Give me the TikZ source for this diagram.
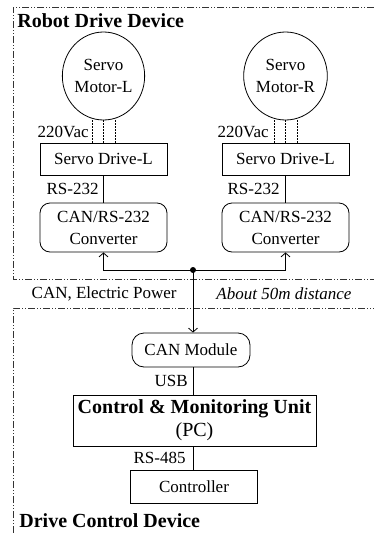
\documentclass[tikz,border=0pt]{standalone}
\usepackage{fontspec}
\setmainfont{Liberation Serif}
\usetikzlibrary{shapes.geometric,arrows.meta}

\begin{document}
\begin{tikzpicture}[x=1pt, y=-1pt, line width=0.8pt,
    every node/.style={font=\fontsize{17}{22}\selectfont, inner sep=0pt},
    motor/.style={draw, ellipse, minimum width=81pt, minimum height=88pt, align=center},
    box/.style={draw, rectangle, minimum width=127pt, minimum height=32pt, align=center},
    roundbox/.style={draw, rectangle, rounded corners=10pt, minimum width=127pt, minimum height=49pt, align=center},
    title/.style={font=\fontsize{20}{24}\selectfont\bfseries, anchor=west},
    lbl/.style={anchor=east},
    region/.style={line width=0.6pt, black!80, dash pattern=on 7pt off 2pt on 1pt off 2pt on 1pt off 2pt},
    wires/.style={line width=0.9pt, dash pattern=on 1.5pt off 1.5pt},
    arr/.style={-{Straight Barb[length=4pt,width=9pt]}}]
    \useasboundingbox (0,0) rectangle (374,533);

    % Device regions
    \draw[region] (374,7) -- (13,7) -- (13,279) -- (374,279);
    \draw[region] (13,533) -- (13,308) -- (374,308);
    \node[title] (robotTitle) at (17,21) {Robot Drive Device};
    \node[title] (driveTitle) at (19,521) {Drive Control Device};

    % Motors, drives and converters
    \node[motor] (motorL) at (103.5,76) {Servo\\Motor-L};
    \node[motor] (motorR) at (285.5,76) {Servo\\Motor-R};
    \node[box] (driveL) at (103.5,159) {Servo Drive-L};
    \node[box] (driveR) at (285.5,159) {Servo Drive-L};
    \node[roundbox] (convL) at (103.5,227.5) {CAN/RS-232\\Converter};
    \node[roundbox] (convR) at (285.5,227.5) {CAN/RS-232\\Converter};

    % Power wires
    \foreach \dx in {-11,0,12} {
        \draw[wires] ([xshift=\dx pt]driveL.north) -- ([xshift=\dx pt]motorL.south);
        \draw[wires] ([xshift=\dx pt]driveR.north) -- ([xshift=\dx pt]motorR.south);
    }
    \node[lbl] (vacL) at (89,132) {220Vac};
    \node[lbl] (vacR) at (269,132) {220Vac};

    % RS-232 links
    \draw (driveL) -- (convL);
    \draw (driveR) -- (convR);
    \node[lbl] (rsL) at (99,189) {RS-232};
    \node[lbl] (rsR) at (280,189) {RS-232};

    % CAN bus
    \coordinate (bus) at (193,270);
    \draw[arr] (bus) -| (convL.south);
    \draw[arr] (bus) -| (convR.south);
    \fill (bus) circle (3pt);
    \node[lbl] (canPower) at (177,294) {CAN, Electric Power};
    \node[anchor=west, font=\fontsize{17}{20}\selectfont\itshape] (dist) at (216,294) {About 50m distance};

    % Drive control side
    \node[roundbox, minimum width=118pt, minimum height=34pt, rounded corners=12pt] (canMod) at (191,350) {CAN Module};
    \node[box, minimum width=243pt, minimum height=51pt, font=\fontsize{20}{23}\selectfont] (pc) at (194.5,420.5) {\textbf{Control \& Monitoring Unit}\\(PC)};
    \node[box, minimum height=33pt] (ctrl) at (194,486.5) {Controller};

    \draw[arr] (bus) -- (bus |- canMod.north);
    \draw (bus |- canMod.south) -- (bus |- pc.north);
    \draw (bus |- pc.south) -- (bus |- ctrl.north);
    \node[lbl] (usb) at (188,381) {USB};
    \node[lbl] (rs485) at (186,458) {RS-485};
\end{tikzpicture}
\end{document}
